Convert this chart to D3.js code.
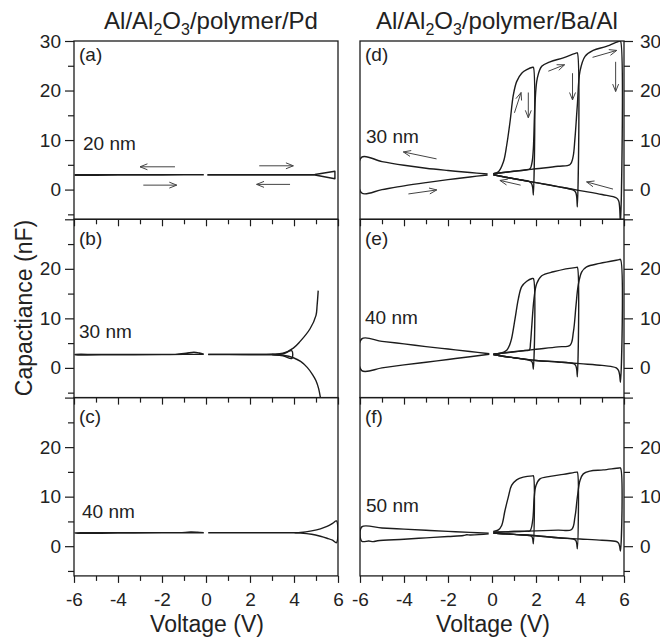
<!DOCTYPE html>
<html>
<head>
<meta charset="utf-8">
<script src="https://cdn.jsdelivr.net/npm/d3@7"></script>
<style>
  body { margin: 0; background: #fff; }
  svg text { font-family: "Liberation Sans", Arial, Helvetica, sans-serif; fill: #222; }
</style>
</head>
<body>
<svg id="chart" width="660" height="640"></svg>
<script>
// ---------------- axis ticks and labels ----------------
const voltageMajor = [-6, -4, -2, 0, 2, 4, 6];
const voltageMinor = [-5, -3, -1, 1, 3, 5];
const capMajor = [0, 10, 20, 30];
const capMinor = [-5, 5, 15, 25];
const columnTitles = [
  ["Al/Al", "2", "O", "3", "/polymer/Pd"],
  ["Al/Al", "2", "O", "3", "/polymer/Ba/Al"]
];
const panelLetters = ["(a)", "(b)", "(c)", "(d)", "(e)", "(f)"];
const thicknessLabels = ["20 nm", "30 nm", "40 nm", "30 nm", "40 nm", "50 nm"];
const xTitle = "Voltage (V)";
const yTitle = "Capactiance (nF)";

// ---------------- C–V sweeps, [voltage (V), capacitance (nF)] ----------------
// Al/Al2O3/polymer/Pd, 20 nm
const aNeg = [[-0.1,3.02],[-1,3.02],[-2,3.0],[-3,3.0],[-4,3.0],[-5,2.98],[-5.95,2.98],[-5.95,2.9],[-5,2.9],[-4,2.92],[-3,2.92],[-2,2.94],[-1,2.96],[-0.1,2.96]];
const aPos = [[0.06,3.0],[1,3.0],[2,3.0],[3,3.0],[4,3.0],[4.95,3.05],[5.86,3.7],[5.86,2.2],[4.95,2.95],[4,2.95],[3,2.95],[2,2.95],[1,2.95],[0.06,2.95]];
// Al/Al2O3/polymer/Pd, 30 nm
const bNeg = [[-0.1,2.72],[-1,2.72],[-2,2.7],[-3,2.7],[-4,2.7],[-5,2.7],[-5.95,2.7],[-5.95,2.66],[-4,2.66],[-2,2.68],[-1.4,2.72],[-0.9,2.95],[-0.55,3.15],[-0.3,3.0],[-0.1,2.78]];
const bPosSmall = [[0.1,2.7],[1,2.7],[2,2.7],[3,2.72],[3.5,2.85],[3.9,3.45],[3.9,1.9],[3.5,2.45],[3,2.62],[2,2.66],[1,2.68],[0.1,2.68]];
const bPosUp = [[0.1,2.72],[1,2.72],[2,2.72],[3,2.76],[3.5,2.95],[3.97,4.0],[4.27,5.3],[4.73,7.9],[5.0,10.6],[5.05,12.6],[5.1,15.6]];
const bPosDown = [[3.0,2.7],[3.5,2.55],[3.97,2.05],[4.3,1.3],[4.6,0.1],[4.85,-1.4],[5.0,-2.6],[5.12,-4.2],[5.22,-6.5]];
// Al/Al2O3/polymer/Pd, 40 nm
const cNeg = [[-0.1,2.72],[-1,2.72],[-2,2.7],[-3,2.7],[-4,2.7],[-5,2.7],[-5.95,2.7],[-5.95,2.66],[-4,2.66],[-2,2.68],[-1.2,2.72],[-0.7,2.85],[-0.4,2.82],[-0.1,2.74]];
const cPos = [[0.1,2.7],[1,2.7],[2,2.7],[3,2.7],[4,2.72],[4.3,2.78],[4.8,3.1],[5.2,3.5],[5.5,4.0],[5.75,4.6],[5.93,5.1],[5.93,0.7],[5.75,1.2],[5.5,1.6],[5.2,2.0],[4.8,2.4],[4.3,2.64],[4,2.68],[2,2.68],[0.1,2.68]];
// Al/Al2O3/polymer/Ba/Al, 30 nm
const dNeg = [[-0.2,3.15],[-1,3.45],[-2,3.85],[-3,4.3],[-4,4.9],[-5,5.65],[-5.92,6.55],[-5.92,-0.7],[-5,0.0],[-4,0.75],[-3,1.4],[-2,2.0],[-1,2.55],[-0.2,2.95]];
const dLoop2V = [[0.06,3.2],[0.29,3.58],[0.52,5.6],[0.67,9.0],[0.82,13.7],[0.97,19.1],[1.12,21.8],[1.35,23.5],[1.58,24.2],[1.85,24.7],[1.88,24.7],[1.88,-1.1],[1.85,0.4],[1.8,1.2],[1.7,1.6],[1.2,2.05],[0.6,2.5],[0.06,3.0]];
const dLoop4V = [[0.06,3.2],[0.5,3.45],[1.0,3.7],[1.5,3.95],[1.73,4.2],[1.82,5.5],[1.88,8.3],[1.95,17.0],[2.06,22.5],[2.26,24.9],[2.64,25.8],[3.24,26.6],[3.85,27.6],[3.88,27.6],[3.88,-3.5],[3.85,-1.5],[3.8,-0.5],[3.7,-0.1],[3.0,0.6],[2.0,1.4],[1.0,2.2],[0.06,3.0]];
const dLoop6V = [[0.06,3.2],[1,3.7],[2,4.2],[3,4.7],[3.55,5.07],[3.68,6.5],[3.77,10.3],[3.88,17.1],[4.0,23.9],[4.23,26.9],[4.6,28.1],[5.2,28.9],[5.8,30.0],[5.84,30.0],[5.84,-7],[5.8,-3.5],[5.76,-2.3],[5.66,-1.7],[5.0,-1.0],[4.0,-0.2],[3.0,0.6],[2,1.4],[1,2.2],[0.06,3.0]];
// Al/Al2O3/polymer/Ba/Al, 40 nm
const eNeg = [[-0.12,2.85],[-1,3.3],[-2,3.8],[-3,4.3],[-4,4.85],[-5,5.35],[-5.92,5.86],[-5.92,-0.55],[-5,0.0],[-4,0.6],[-3,1.15],[-2,1.7],[-1,2.25],[-0.12,2.75]];
const eLoop2V = [[0.06,2.75],[0.4,2.95],[0.67,3.57],[0.8,4.6],[0.89,5.9],[1.05,10.0],[1.2,14.0],[1.35,16.4],[1.58,17.5],[1.83,18.05],[1.88,18.05],[1.88,-0.3],[1.85,0.8],[1.8,1.35],[1.6,1.65],[1.0,2.05],[0.5,2.35],[0.06,2.7]];
const eLoop4V = [[0.06,2.75],[0.5,3.0],[1.0,3.25],[1.5,3.5],[1.7,3.6],[1.75,5.0],[1.8,7.95],[1.91,14.0],[2.03,17.0],[2.26,18.6],[2.79,19.4],[3.85,20.3],[3.88,20.3],[3.88,-1.8],[3.85,-0.3],[3.8,0.5],[3.7,0.85],[3,1.2],[2,1.5],[1,2.05],[0.5,2.35],[0.06,2.7]];
const eLoop6V = [[0.06,2.75],[1,3.25],[2,3.75],[3,4.25],[3.55,4.58],[3.7,7.27],[3.82,12.66],[3.92,16.7],[4.08,19.4],[4.3,20.4],[4.9,21.1],[5.78,21.85],[5.84,21.9],[5.84,-2.9],[5.8,-1.4],[5.75,-0.5],[5.65,0.0],[5.4,0.3],[5,0.5],[4,0.85],[3,1.2],[2,1.5],[1,2.05],[0.5,2.35],[0.06,2.7]];
// Al/Al2O3/polymer/Ba/Al, 50 nm
const fNeg = [[-0.15,2.6],[-1,2.78],[-2,3.0],[-3,3.22],[-4,3.45],[-5,3.68],[-5.92,3.9],[-5.92,1.0],[-5.6,1.05],[-5.4,0.92],[-5.2,1.1],[-4,1.4],[-3,1.68],[-2,1.95],[-1.3,2.15],[-1.15,2.3],[-1.0,2.25],[-0.15,2.48]];
const fLoop2V = [[0.06,3.0],[0.29,3.3],[0.44,4.18],[0.59,7.2],[0.74,9.9],[0.89,12.26],[1.12,13.4],[1.42,13.94],[1.85,14.2],[1.88,14.2],[1.88,0.47],[1.85,1.5],[1.8,2.0],[1.6,2.2],[1,2.38],[0.5,2.52],[0.06,2.63]];
const fLoop4V = [[0.06,2.8],[1,2.95],[1.6,3.03],[1.73,3.1],[1.85,5.2],[1.92,9.9],[2.0,12.26],[2.18,13.6],[2.64,14.1],[3.24,14.5],[3.85,14.95],[3.88,14.95],[3.88,-0.54],[3.85,0.6],[3.8,1.2],[3.7,1.45],[3,1.7],[2,2.1],[1,2.38],[0.5,2.52],[0.06,2.63]];
const fLoop6V = [[0.06,2.8],[1,2.95],[2,3.1],[3,3.25],[3.62,3.37],[3.77,5.86],[3.88,9.9],[4.0,13.27],[4.15,14.6],[4.45,15.15],[5.06,15.4],[5.78,15.8],[5.84,15.8],[5.84,-1.0],[5.8,0.0],[5.75,0.6],[5.65,0.95],[5,1.2],[4,1.45],[3,1.7],[2,2.1],[1,2.38],[0.5,2.52],[0.06,2.63]];

// sweep-direction arrows: [V tail, C tail, V head, C head]
const aArrows = [[-1.41,4.6,-3.0,4.6],[-2.85,0.9,-1.33,0.9],[2.42,4.8,3.97,4.8],[3.82,1.05,2.3,1.05]];
const dArrows = [[-2.52,6.2,-4.03,7.6],[-3.8,-0.88,-2.51,-0.07],[1.3,0.9,0.36,1.85],[5.5,0.1,4.3,1.55],
                 [1.02,15.5,1.32,19.6],[1.65,19.6,1.65,14.5],[2.56,23.9,3.3,25.2],[3.66,23.5,3.66,18.1],
                 [4.57,26.7,5.67,28.1],[5.62,25.8,5.62,19.8]];

// ---------------- layout ----------------
const svg = d3.select("#chart");
const colX = [[74, 338], [360, 624]];
const rowTop = 41, rowH = 178.3;
const ink = "#1c1c1c";
const smooth = d3.curveCatmullRom.alpha(0.5);
const straight = d3.curveLinear;

const panels = [
  { col: 0, row: 0, traces: [aNeg, aPos], curve: straight, arrows: aArrows, labelC: 8.0, labelDx: 9, letterDy: 20 },
  { col: 0, row: 1, traces: [bNeg, bPosSmall, bPosUp, bPosDown], curve: smooth, arrows: [], labelC: 6.0, labelDx: 5, letterDy: 26 },
  { col: 0, row: 2, traces: [cNeg, cPos], curve: smooth, arrows: [], labelC: 5.7, labelDx: 8, letterDy: 25 },
  { col: 1, row: 0, traces: [dNeg, dLoop2V, dLoop4V, dLoop6V], curve: smooth, arrows: dArrows, labelC: 9.5, labelDx: 6, letterDy: 20 },
  { col: 1, row: 1, traces: [eNeg, eLoop2V, eLoop4V, eLoop6V], curve: smooth, arrows: [], labelC: 8.8, labelDx: 5, letterDy: 26 },
  { col: 1, row: 2, traces: [fNeg, fLoop2V, fLoop4V, fLoop6V], curve: smooth, arrows: [], labelC: 6.9, labelDx: 6, letterDy: 25 }
];

const tickFont = 19;
const noLabel = () => "";

panels.forEach((p, i) => {
  const [x0, x1] = colX[p.col];
  const top = rowTop + p.row * rowH;
  const bottom = top + rowH;
  const x = d3.scaleLinear().domain([-6, 6]).range([x0, x1]);
  const y = d3.scaleLinear().domain([-6, 30]).range([bottom, top]);
  const g = svg.append("g");

  const clipId = "clip" + i;
  svg.append("clipPath").attr("id", clipId)
    .append("rect").attr("x", x0).attr("y", top).attr("width", x1 - x0).attr("height", rowH);

  // curves
  const line = d3.line().x(d => x(d[0])).y(d => y(d[1])).curve(p.curve);
  g.append("g").attr("clip-path", `url(#${clipId})`)
    .selectAll("path").data(p.traces).join("path")
    .attr("d", line).attr("fill", "none").attr("stroke", ink)
    .attr("stroke-width", 1.4).attr("stroke-linejoin", "round");

  // arrows
  const ag = g.append("g").attr("stroke", "#444").attr("stroke-width", 1).attr("fill", "none");
  p.arrows.forEach(a => {
    const tx = x(a[0]), ty = y(a[1]), hx = x(a[2]), hy = y(a[3]);
    const ang = Math.atan2(hy - ty, hx - tx);
    const len = 8, spread = 0.38;
    const b1 = [hx - len * Math.cos(ang - spread), hy - len * Math.sin(ang - spread)];
    const b2 = [hx - len * Math.cos(ang + spread), hy - len * Math.sin(ang + spread)];
    ag.append("path").attr("d", `M${tx},${ty}L${hx},${hy}M${b1[0]},${b1[1]}L${hx},${hy}L${b2[0]},${b2[1]}`);
  });

  // x axis (bottom, ticks outward); plain hyphen for negatives
  const isBottom = p.row === 2;
  const xMaj = g.append("g").attr("transform", `translate(0,${bottom})`)
    .call(d3.axisBottom(x).tickValues(voltageMajor).tickSize(7).tickPadding(10)
      .tickFormat(isBottom ? (v => String(v)) : noLabel));
  const xMin = g.append("g").attr("transform", `translate(0,${bottom})`)
    .call(d3.axisBottom(x).tickValues(voltageMinor).tickSize(5).tickFormat(noLabel));

  // y axis (left for left column, right for right column)
  const labelled = p.row === 0 ? capMajor : capMajor.slice(0, 3);
  const fmt = v => labelled.includes(v) ? String(v) : "";
  let yMaj, yMin;
  if (p.col === 0) {
    yMaj = g.append("g").attr("transform", `translate(${x0},0)`)
      .call(d3.axisLeft(y).tickValues(capMajor).tickSize(9).tickPadding(4).tickFormat(fmt));
    yMin = g.append("g").attr("transform", `translate(${x0},0)`)
      .call(d3.axisLeft(y).tickValues(capMinor).tickSize(6).tickFormat(noLabel));
  } else {
    yMaj = g.append("g").attr("transform", `translate(${x1},0)`)
      .call(d3.axisRight(y).tickValues(capMajor).tickSize(9).tickPadding(7).tickFormat(fmt));
    yMin = g.append("g").attr("transform", `translate(${x1},0)`)
      .call(d3.axisRight(y).tickValues(capMinor).tickSize(6).tickFormat(noLabel));
  }
  [xMaj, xMin, yMaj, yMin].forEach(ax => {
    ax.select(".domain").remove();
    ax.selectAll("line").attr("stroke", ink).attr("stroke-width", 1.2);
    ax.selectAll("text").attr("font-size", tickFont).attr("fill", "#222")
      .attr("font-family", '"Liberation Sans", Arial, sans-serif');
  });

  // frame
  g.append("rect").attr("x", x0).attr("y", top).attr("width", x1 - x0).attr("height", rowH)
    .attr("fill", "none").attr("stroke", ink).attr("stroke-width", 1.3);

  // panel letter and film thickness
  g.append("text").attr("x", x0 + 5).attr("y", top + p.letterDy)
    .attr("font-size", 19).text(panelLetters[i]);
  g.append("text").attr("x", x0 + p.labelDx).attr("y", y(p.labelC))
    .attr("font-size", 19).text(thicknessLabels[i]);
});

// column titles with subscripts
columnTitles.forEach((parts, c) => {
  const cx = (colX[c][0] + colX[c][1]) / 2 + 5;
  const t = svg.append("text").attr("x", cx).attr("y", 29)
    .attr("text-anchor", "middle").attr("font-size", 24);
  parts.forEach((s, k) => {
    const sub = k === 1 || k === 3;
    const ts = t.append("tspan").text(s);
    if (sub) ts.attr("font-size", 16).attr("dy", 6);
    else if (k > 0) ts.attr("dy", -6);
  });
});

// axis titles
colX.forEach(([x0, x1]) => {
  svg.append("text").attr("x", (x0 + x1) / 2 + 1).attr("y", 632)
    .attr("text-anchor", "middle").attr("font-size", 23).text(xTitle);
});
svg.append("text").attr("transform", "translate(32,308) rotate(-90)")
  .attr("text-anchor", "middle").attr("font-size", 23).text(yTitle);
</script>
</body>
</html>
